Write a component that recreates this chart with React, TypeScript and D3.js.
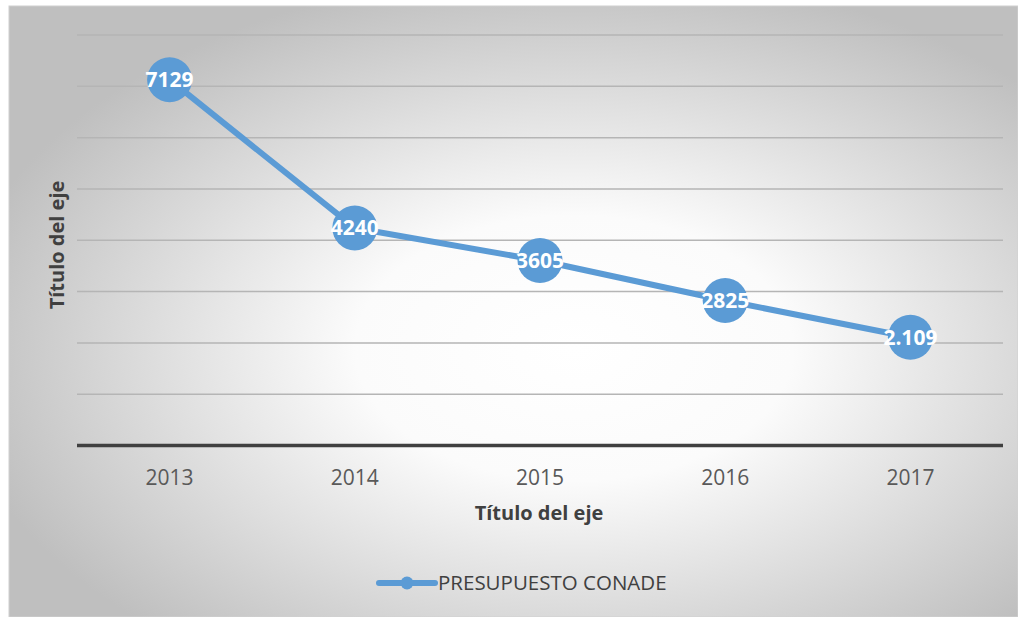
import { useEffect } from 'react'
import * as d3 from 'd3'

const years = ['2013', '2014', '2015', '2016', '2017']
const budget = [7129, 4240, 3605, 2825, 2109]
const budgetLabels = ['7129', '4240', '3605', '2825', '2.109']
const yTickValues = [1000, 2000, 3000, 4000, 5000, 6000, 7000, 8000]
const seriesName = 'PRESUPUESTO CONADE'
const axisTitle = 'Título del eje'

const W = 1018
const H = 617
const PL = 77
const PR = 1003
const PT = 35
const PB = 445.5
const BLUE = '#5b9bd5'
const FONT = '"Open Sans", Lato, sans-serif'

export default function App() {
  useEffect(() => {
    document.body.style.margin = '0'
  }, [])

  const x = d3.scaleBand<string>().domain(years).range([PL, PR]).padding(0)
  const y = d3.scaleLinear().domain([0, 8000]).range([PB, PT])
  const cx = (i: number) => (x(years[i]) ?? 0) + x.bandwidth() / 2

  const line = d3
    .line<number>()
    .x((_, i) => cx(i))
    .y((d) => y(d))

  return (
    <svg width={W} height={H} style={{ display: 'block' }} fontFamily={FONT}>
      <defs>
        <radialGradient id="bg" cx="56%" cy="56%" r="62%" gradientUnits="objectBoundingBox">
          <stop offset="0%" stopColor="#ffffff" />
          <stop offset="35%" stopColor="#fbfbfb" />
          <stop offset="100%" stopColor="#bfbfbf" />
        </radialGradient>
      </defs>
      <rect x={0} y={0} width={W} height={H} fill="#ffffff" />
      <rect x={9} y={6} width={W - 9} height={H - 6} fill="url(#bg)" stroke="#d0d0d0" strokeWidth={1} />

      {/* gridlines */}
      {yTickValues.map((t) => (
        <line key={t} x1={PL} x2={PR} y1={y(t)} y2={y(t)} stroke="#b5b5b5" strokeWidth={1.5} />
      ))}

      {/* x axis */}
      <line x1={PL} x2={PR} y1={y(0)} y2={y(0)} stroke="#404040" strokeWidth={3.5} />
      {years.map((yr, i) => (
        <text key={yr} x={cx(i)} y={485} textAnchor="middle" fontSize={21} fill="#595959">
          {yr}
        </text>
      ))}

      {/* axis titles */}
      <text x={539} y={520} textAnchor="middle" fontSize={20} fontWeight="bold" fill="#404040">
        {axisTitle}
      </text>
      <text
        transform="translate(64,245) rotate(-90)"
        textAnchor="middle"
        fontSize={20}
        fontWeight="bold"
        fill="#404040"
      >
        {axisTitle}
      </text>

      {/* series */}
      <path d={line(budget) ?? ''} fill="none" stroke={BLUE} strokeWidth={6} strokeLinejoin="round" />
      {budget.map((v, i) => (
        <circle key={years[i]} cx={cx(i)} cy={y(v)} r={22.5} fill={BLUE} />
      ))}
      {budget.map((v, i) => (
        <text
          key={years[i]}
          x={cx(i)}
          y={y(v) + 7.5}
          textAnchor="middle"
          fontSize={21}
          fontWeight="bold"
          fill="#ffffff"
        >
          {budgetLabels[i]}
        </text>
      ))}

      {/* legend */}
      <line x1={379} x2={435} y1={583} y2={583} stroke={BLUE} strokeWidth={6} strokeLinecap="round" />
      <circle cx={407} cy={583} r={6.5} fill={BLUE} />
      <text x={438} y={590} fontSize={20.5} fill="#404040">
        {seriesName}
      </text>
    </svg>
  )
}
